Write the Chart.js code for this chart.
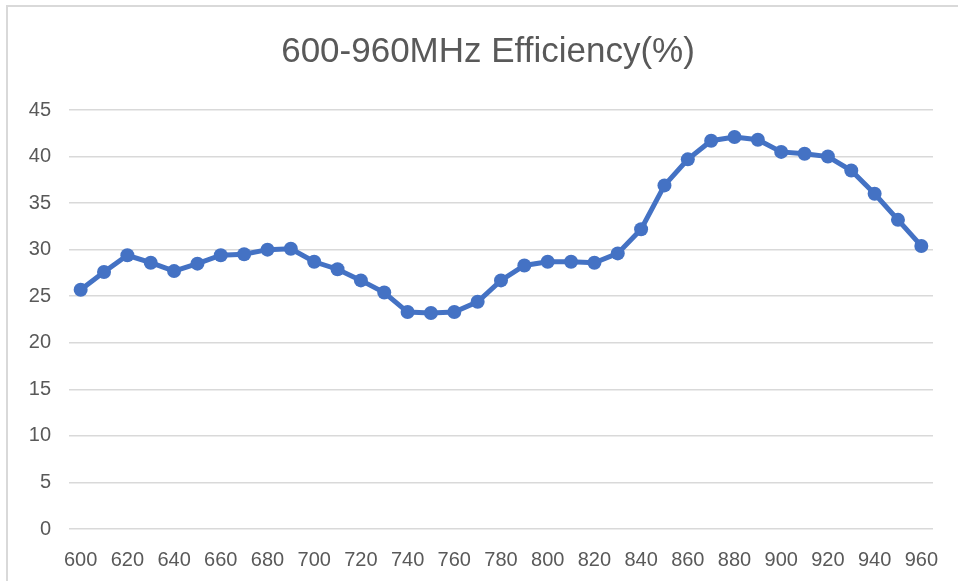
<!DOCTYPE html>
<html>
<head>
<meta charset="utf-8">
<script src="https://cdn.jsdelivr.net/npm/chart.js@4/dist/chart.umd.min.js"></script>
<style>
  html, body { margin: 0; padding: 0; background: #fff; }
  #wrap { position: relative; width: 958px; height: 581px; overflow: hidden; }
  #frame {
    position: absolute; left: 6px; top: 5px; width: 1000px; height: 620px;
    border-top: 2px solid #d9d9d9; border-left: 2px solid #d9d9d9;
  }
  #chart { position: absolute; left: 0; top: 0; }
</style>
</head>
<body>
<div id="wrap">
  <div id="frame"></div>
  <canvas id="chart" width="958" height="581"></canvas>
</div>
<script>
// 頻率 (MHz)
const freqs = [600, 610, 620, 630, 640, 650, 660, 670, 680, 690,
               700, 710, 720, 730, 740, 750, 760, 770, 780, 790,
               800, 810, 820, 830, 840, 850, 860, 870, 880, 890,
               900, 910, 920, 930, 940, 950, 960];

// 效率 (%)
const efficiency = [25.7, 27.6, 29.4, 28.6, 27.7, 28.5, 29.4, 29.5, 30.0, 30.1,
                    28.7, 27.9, 26.7, 25.4, 23.3, 23.2, 23.3, 24.4, 26.7, 28.3,
                    28.7, 28.7, 28.6, 29.6, 32.2, 36.9, 39.7, 41.7, 42.1, 41.8,
                    40.5, 40.3, 40.0, 38.5, 36.0, 33.2, 30.4];

const yTicks = { min: 0, max: 45, step: 5 };
const titleText = '600-960MHz Efficiency(%)';

const FONT = "'Liberation Sans', Arial, sans-serif";
const GREY = '#595959';

new Chart(document.getElementById('chart').getContext('2d'), {
  type: 'line',
  data: {
    labels: freqs.map(String),
    datasets: [{
      data: efficiency,
      borderColor: '#4472c4',
      backgroundColor: '#4472c4',
      borderWidth: 5,
      pointRadius: 7,
      pointBorderWidth: 0,
      tension: 0
    }]
  },
  options: {
    responsive: false,
    animation: false,
    layout: { padding: { left: 18, right: 0, top: 0, bottom: 0 } },
    plugins: {
      legend: { display: false },
      tooltip: { enabled: false },
      title: {
        display: true,
        text: titleText,
        color: GREY,
        font: { family: FONT, size: 35, weight: 'normal' },
        padding: { top: 31, bottom: 37 }
      }
    },
    scales: {
      x: {
        type: 'category',
        offset: true,
        grid: { display: false },
        border: { display: false },
        ticks: {
          autoSkip: false,
          maxRotation: 0,
          padding: 11,
          color: GREY,
          font: { family: FONT, size: 20 },
          callback: (v, i) => i % 2 === 0 ? freqs[i] : ''
        },
        afterFit: s => { s.height = 52; }
      },
      y: {
        min: yTicks.min,
        max: yTicks.max,
        grid: { color: '#d9d9d9', lineWidth: 1.5, drawTicks: false },
        border: { display: false },
        ticks: {
          stepSize: yTicks.step,
          padding: 18,
          color: GREY,
          font: { family: FONT, size: 20 }
        },
        afterFit: s => { s.width = 51; }
      },
      // 右側留白
      yRight: {
        position: 'right',
        min: yTicks.min,
        max: yTicks.max,
        grid: { display: false },
        border: { display: false },
        ticks: { display: false },
        afterFit: s => { s.width = 25; }
      }
    }
  }
});
</script>
</body>
</html>
